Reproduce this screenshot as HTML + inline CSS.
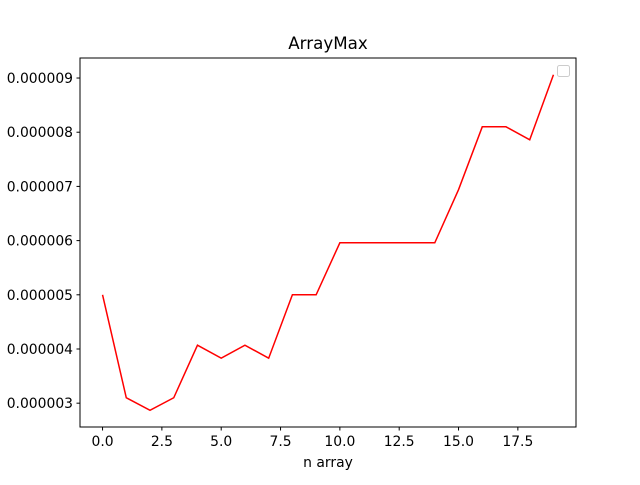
<!DOCTYPE html>
<html><head><meta charset="utf-8"><style>
body{margin:0;background:#fff;}
svg text{font-family:"DejaVu Sans","Liberation Sans",sans-serif;fill:#000;}
</style></head><body>
<svg id="chart" width="640" height="480" xmlns="http://www.w3.org/2000/svg">
<rect width="640" height="480" fill="#fff"/>
<text x="328" y="49" font-size="16.7" text-anchor="middle">ArrayMax</text>
<g id="xt"></g><g id="yt"></g>
<polyline id="line" fill="none" stroke="#ff0000" stroke-width="1.5"/>
<rect x="80" y="58" width="496" height="369" fill="none" stroke="#000" stroke-width="1"/>
<rect x="557.5" y="65.5" width="12" height="11" rx="2" fill="#fff" stroke="#ccc"/>
<text x="328" y="467" font-size="13.9" text-anchor="middle">n array</text>
</svg>
<script>
const xValues=[0,1,2,3,4,5,6,7,8,9,10,11,12,13,14,15,16,17,18,19];
const yValues=[5.0,3.1,2.87,3.1,4.07,3.83,4.07,3.83,5.0,5.0,5.96,5.96,5.96,5.96,5.96,6.94,8.1,8.1,7.86,9.06];
const xTicks=[0,2.5,5,7.5,10,12.5,15,17.5];
const xTickLabels=["0.0","2.5","5.0","7.5","10.0","12.5","15.0","17.5"];
const yTicks=[3,4,5,6,7,8,9];
const yTickLabels=["0.000003","0.000004","0.000005","0.000006","0.000007","0.000008","0.000009"];
const NS="http://www.w3.org/2000/svg";
const x0=80,x1=576,y0=427,y1=58;
const xmin=Math.min(...xValues),xmax=Math.max(...xValues),xm=(xmax-xmin)*0.05;
const ymin=Math.min(...yValues),ymax=Math.max(...yValues),ym=(ymax-ymin)*0.05;
const sx=v=>x0+(v-(xmin-xm))/((xmax+xm)-(xmin-xm))*(x1-x0);
const sy=v=>y0-(v-(ymin-ym))/((ymax+ym)-(ymin-ym))*(y0-y1);
document.getElementById('line').setAttribute('points',xValues.map((x,i)=>sx(x)+','+sy(yValues[i])).join(' '));
const xt=document.getElementById('xt'),yt=document.getElementById('yt');
xTicks.forEach((t,i)=>{
 const l=document.createElementNS(NS,'line');
 l.setAttribute('x1',sx(t));l.setAttribute('x2',sx(t));l.setAttribute('y1',y0);l.setAttribute('y2',y0+3.5);l.setAttribute('stroke','#000');
 
 
 xt.appendChild(l);
 const tx=document.createElementNS(NS,'text');
 tx.setAttribute('x',sx(t));tx.setAttribute('y',y0+19);tx.setAttribute('font-size','13.9');tx.setAttribute('text-anchor','middle');
 tx.textContent=xTickLabels[i];
 
 
 xt.appendChild(tx);
});
yTicks.forEach((t,i)=>{
 const l=document.createElementNS(NS,'line');
 l.setAttribute('x1',x0-3.5);l.setAttribute('x2',x0);l.setAttribute('y1',sy(t));l.setAttribute('y2',sy(t));l.setAttribute('stroke','#000');
 
 
 yt.appendChild(l);
 const tx=document.createElementNS(NS,'text');
 tx.setAttribute('x',x0-7);tx.setAttribute('y',sy(t)+5);tx.setAttribute('font-size','13.9');tx.setAttribute('text-anchor','end');
 tx.textContent=yTickLabels[i];
 
 
 yt.appendChild(tx);
});
</script>
</body></html>
